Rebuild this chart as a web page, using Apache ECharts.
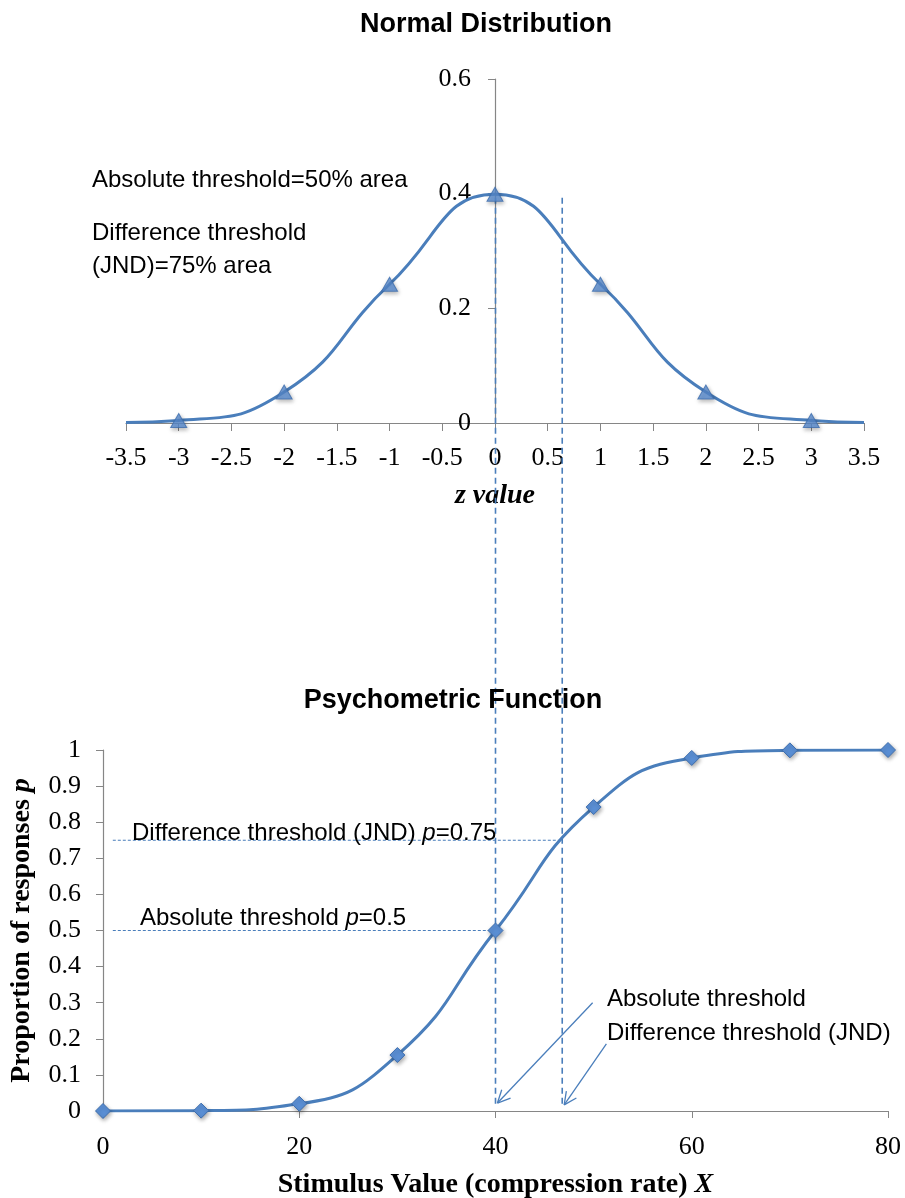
<!DOCTYPE html>
<html>
<head>
<meta charset="utf-8">
<script src="https://cdn.jsdelivr.net/npm/echarts@6/dist/echarts.min.js"></script>
<style>
  html, body { margin: 0; padding: 0; background: #ffffff; }
  #chart { width: 905px; height: 1198px; }
</style>
</head>
<body>
<div id="chart"></div>
<script>
// Normal distribution: curve values (tails reach ±3.5) and the marked integer z points
const zCurve = [-3.5, -3, -2, -1, 0, 1, 2, 3, 3.5];
const densityCurve = [0.001, 0.0044, 0.054, 0.242, 0.399, 0.242, 0.054, 0.0044, 0.001];
const zMarked = [-3, -2, -1, 0, 1, 2, 3];
const densityMarked = [0.0044, 0.054, 0.242, 0.399, 0.242, 0.054, 0.0044];

// Psychometric function: stimulus values and proportion of responses
const stimulus = [0, 10, 20, 30, 40, 50, 60, 70, 80];
const proportion = [0, 0.001, 0.02, 0.155, 0.5, 0.842, 0.978, 0.999, 1];

// Threshold levels
const absoluteX = 40, jndX = 46.8;
const absoluteP = 0.5, jndP = 0.75;

const BLUE = '#4a7ebb';
const MARK_FILL = '#5b90d6';
const MARK_EDGE = '#3e6eae';
const AXIS = '#868686';
const SERIF = '"Liberation Serif", "DejaVu Serif", serif';
const SANS = '"Liberation Sans", Arial, sans-serif';
const TICK_SIZE = 26;
const AXIS_NAME_SIZE = 28;
const NOTE_SIZE = 24;
const TITLE_SIZE = 27;

const chart = echarts.init(document.getElementById('chart'), null, { renderer: 'canvas' });

function pairs(xs, ys) { return xs.map((x, i) => [x, ys[i]]); }

const tickLabel = { color: '#000', fontFamily: SERIF, fontSize: TICK_SIZE };
const axisLineStyle = { color: AXIS, width: 1.2 };
const markerStyle = {
  color: MARK_FILL, borderColor: MARK_EDGE, borderWidth: 1,
  shadowColor: 'rgba(0,0,0,0.35)', shadowBlur: 4, shadowOffsetX: 1, shadowOffsetY: 2
};
const nameRich = {
  b: { fontFamily: SERIF, fontWeight: 'bold', fontSize: AXIS_NAME_SIZE, color: '#000' },
  i: { fontFamily: SERIF, fontWeight: 'bold', fontStyle: 'italic', fontSize: AXIS_NAME_SIZE, color: '#000' }
};

chart.setOption({
  animation: false,
  title: [
    { text: 'Normal Distribution', left: 481, top: 6, textAlign: 'center',
      textStyle: { fontFamily: SANS, fontWeight: 'bold', fontSize: TITLE_SIZE, color: '#000' } },
    { text: 'Psychometric Function', left: 448, top: 682, textAlign: 'center',
      textStyle: { fontFamily: SANS, fontWeight: 'bold', fontSize: TITLE_SIZE, color: '#000' } }
  ],
  grid: [
    { left: 126, right: 41, top: 79, height: 344, outerBoundsMode: 'none', containLabel: false },
    { left: 103, right: 17, top: 750, height: 361, outerBoundsMode: 'none', containLabel: false }
  ],
  xAxis: [
    { gridIndex: 0, type: 'value', min: -3.5, max: 3.5, interval: 0.5,
      axisLine: { onZero: false, lineStyle: axisLineStyle },
      axisTick: { show: true, inside: false, length: 8, lineStyle: { color: AXIS } },
      axisLabel: Object.assign({ margin: 22 }, tickLabel),
      splitLine: { show: false },
      name: 'z value', nameLocation: 'middle', nameGap: 59,
      nameTextStyle: { fontFamily: SERIF, fontWeight: 'bold', fontStyle: 'italic', fontSize: AXIS_NAME_SIZE, color: '#000' } },
    { gridIndex: 1, type: 'value', min: 0, max: 80, interval: 20,
      axisLine: { onZero: false, lineStyle: axisLineStyle },
      axisTick: { show: true, inside: false, length: 7, lineStyle: { color: AXIS } },
      axisLabel: Object.assign({ margin: 23 }, tickLabel),
      splitLine: { show: false },
      name: '{b|Stimulus Value (compression rate) }{i|X}', nameLocation: 'middle', nameGap: 60,
      nameTextStyle: { rich: nameRich } }
  ],
  yAxis: [
    { gridIndex: 0, type: 'value', min: 0, max: 0.6, interval: 0.2,
      axisLine: { show: true, onZero: false, lineStyle: axisLineStyle },
      axisTick: { show: true, inside: false, length: 7, lineStyle: { color: AXIS } },
      axisLabel: Object.assign({ margin: 24, formatter: v => String(+v.toFixed(1)) }, tickLabel),
      splitLine: { show: false } },
    { gridIndex: 1, type: 'value', min: 0, max: 1, interval: 0.1,
      axisLine: { show: true, onZero: false, lineStyle: axisLineStyle },
      axisTick: { show: true, inside: false, length: 7, lineStyle: { color: AXIS } },
      axisLabel: Object.assign({ margin: 22, formatter: v => String(+v.toFixed(1)) }, tickLabel),
      splitLine: { show: false },
      name: '{b|Proportion of responses }{i|p}', nameLocation: 'middle', nameGap: 67, nameRotate: 90,
      nameTextStyle: { rich: nameRich } }
  ],
  series: [
    { type: 'line', xAxisIndex: 0, yAxisIndex: 0, data: pairs(zCurve, densityCurve),
      smooth: 0.5, showSymbol: false, symbol: 'none',
      lineStyle: { color: BLUE, width: 3 }, z: 3 },
    { type: 'scatter', xAxisIndex: 0, yAxisIndex: 0, data: pairs(zMarked, densityMarked),
      symbol: 'triangle', symbolSize: [16, 14], itemStyle: markerStyle, z: 4 },
    { type: 'line', xAxisIndex: 1, yAxisIndex: 1, data: pairs(stimulus, proportion),
      smooth: 0.5,
      symbol: 'diamond', symbolSize: 15, showAllSymbol: true,
      lineStyle: { color: BLUE, width: 3 }, itemStyle: markerStyle, z: 4 }
  ]
});

function px(grid, x, y) { return chart.convertToPixel({ gridIndex: grid }, [x, y]); }

// The density axis stands at z = 0
const zeroX = px(0, 0, 0)[0];
const gridLeft = px(0, -3.5, 0)[0];
chart.setOption({ yAxis: [{ offset: -(zeroX - gridLeft) }, {}] });

const dashStyle = (w, dash) => ({ stroke: BLUE, lineWidth: w, lineDash: dash });
const graphics = [];

// Vertical threshold lines from the density peak level down to the stimulus axis
[absoluteX, jndX].forEach(x => {
  const bottom = px(1, x, 0.015);
  const top = px(0, 0, 0.393);
  graphics.push({ type: 'line', z: 2,
    shape: { x1: bottom[0], y1: top[1], x2: bottom[0], y2: bottom[1] },
    style: dashStyle(1.6, [6, 4]) });
});

// Horizontal threshold levels
[[absoluteP, absoluteX], [jndP, jndX]].forEach(([p, x]) => {
  const a = px(1, 1, p), b = px(1, x, p);
  graphics.push({ type: 'line', z: 2,
    shape: { x1: a[0], y1: a[1], x2: b[0], y2: b[1] },
    style: dashStyle(1.2, [3, 2]) });
});

// Arrows pointing at the two thresholds on the stimulus axis
function arrow(from, to) {
  const a = px(1, from[0], from[1]), b = px(1, to[0], to[1]);
  const ang = Math.atan2(a[1] - b[1], a[0] - b[0]);
  const len = 14, spread = 0.45;
  graphics.push({ type: 'line', z: 5, shape: { x1: a[0], y1: a[1], x2: b[0], y2: b[1] },
    style: { stroke: BLUE, lineWidth: 1.3 } });
  [ang - spread, ang + spread].forEach(t => {
    graphics.push({ type: 'line', z: 5,
      shape: { x1: b[0], y1: b[1], x2: b[0] + len * Math.cos(t), y2: b[1] + len * Math.sin(t) },
      style: { stroke: BLUE, lineWidth: 1.3 } });
  });
}
arrow([49.9, 0.30], [40.2, 0.022]);
arrow([51.3, 0.186], [47.0, 0.017]);

// Text notes
function note(x, y, text) {
  graphics.push({ type: 'text', z: 6, x, y,
    style: { text, verticalAlign: 'middle', align: 'left',
      fontFamily: SANS, fontSize: NOTE_SIZE, fill: '#000',
      rich: {
        n: { fontFamily: SANS, fontSize: NOTE_SIZE, fill: '#000' },
        i: { fontFamily: SANS, fontSize: NOTE_SIZE, fontStyle: 'italic', fill: '#000' } } } });
}
note(92, 180, 'Absolute threshold=50% area');
note(92, 233, 'Difference threshold');
note(92, 266, '(JND)=75% area');
note(132, 833, '{n|Difference threshold (JND) }{i|p}{n|=0.75}');
note(140, 918, '{n|Absolute threshold }{i|p}{n|=0.5}');
note(607, 999, 'Absolute threshold');
note(607, 1033, 'Difference threshold (JND)');

chart.setOption({ graphic: graphics });
</script>
</body>
</html>
